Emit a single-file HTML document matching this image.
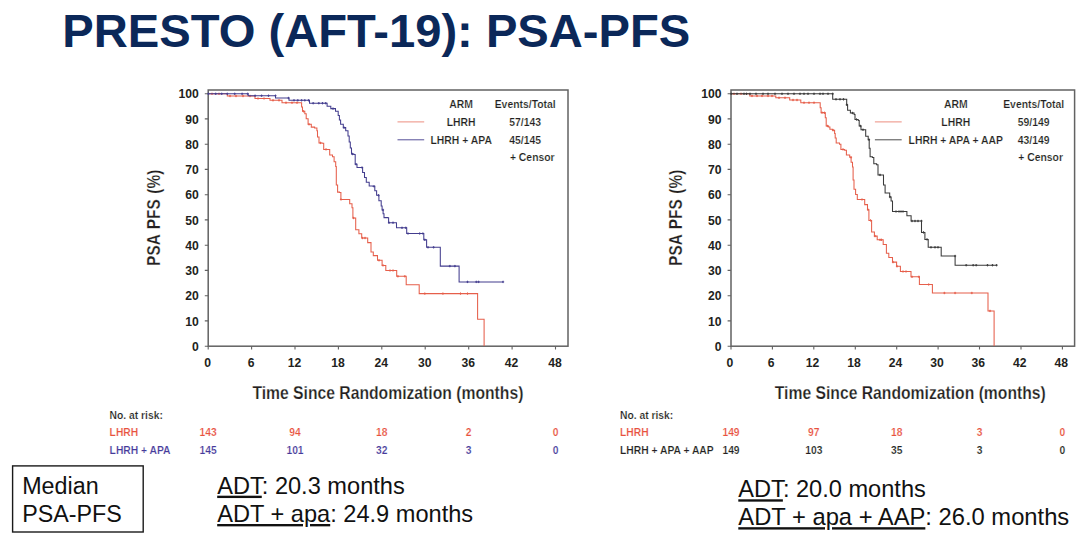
<!DOCTYPE html>
<html lang="en"><head><meta charset="utf-8"><title>PRESTO (AFT-19): PSA-PFS</title>
<style>
html,body{margin:0;padding:0;background:#fff}
body{width:1080px;height:539px;overflow:hidden;position:relative;font-family:"Liberation Sans",Arial,sans-serif}
svg{position:absolute;left:0;top:0;display:block}
svg text{font-family:"Liberation Sans",Arial,sans-serif}
.tk{font-size:12.3px;font-weight:bold;fill:#231f20}
.ax{font-size:19px;font-weight:bold;fill:#231f20;stroke:#fff;stroke-width:.25px}
.lg{font-size:10.4px;font-weight:bold;fill:#231f20;stroke:#fff;stroke-width:.18px}
.rk{font-size:10.3px;font-weight:bold;fill:#231f20;stroke:#fff;stroke-width:.18px}
.ttl{font-size:46px;font-weight:bold;fill:#0b2859}
.bt{font-size:23.6px;fill:#111}.bx{font-size:23.3px;fill:#111}
</style></head><body>
<svg width="1080" height="539" viewBox="0 0 1080 539">
<text x="62.3" y="47.2" class="ttl" textLength="628" lengthAdjust="spacingAndGlyphs">PRESTO (AFT-19): PSA-PFS</text>
<rect x="208.2" y="90.0" width="359.8" height="256.2" fill="none" stroke="#626262" stroke-width="1.5"/>
<text transform="translate(198.7,350.8) scale(.99,1)" text-anchor="end" class="tk">0</text>
<text transform="translate(198.7,325.6) scale(.99,1)" text-anchor="end" class="tk">10</text>
<text transform="translate(198.7,300.3) scale(.99,1)" text-anchor="end" class="tk">20</text>
<text transform="translate(198.7,275.1) scale(.99,1)" text-anchor="end" class="tk">30</text>
<text transform="translate(198.7,249.8) scale(.99,1)" text-anchor="end" class="tk">40</text>
<text transform="translate(198.7,224.5) scale(.99,1)" text-anchor="end" class="tk">50</text>
<text transform="translate(198.7,199.3) scale(.99,1)" text-anchor="end" class="tk">60</text>
<text transform="translate(198.7,174.0) scale(.99,1)" text-anchor="end" class="tk">70</text>
<text transform="translate(198.7,148.8) scale(.99,1)" text-anchor="end" class="tk">80</text>
<text transform="translate(198.7,123.5) scale(.99,1)" text-anchor="end" class="tk">90</text>
<text transform="translate(198.7,98.3) scale(.99,1)" text-anchor="end" class="tk">100</text>
<text transform="translate(207.7,367.1) scale(.99,1)" text-anchor="middle" class="tk">0</text>
<text transform="translate(251.1,367.1) scale(.99,1)" text-anchor="middle" class="tk">6</text>
<text transform="translate(294.5,367.1) scale(.99,1)" text-anchor="middle" class="tk">12</text>
<text transform="translate(337.9,367.1) scale(.99,1)" text-anchor="middle" class="tk">18</text>
<text transform="translate(381.3,367.1) scale(.99,1)" text-anchor="middle" class="tk">24</text>
<text transform="translate(424.8,367.1) scale(.99,1)" text-anchor="middle" class="tk">30</text>
<text transform="translate(468.2,367.1) scale(.99,1)" text-anchor="middle" class="tk">36</text>
<text transform="translate(511.6,367.1) scale(.99,1)" text-anchor="middle" class="tk">42</text>
<text transform="translate(555.0,367.1) scale(.99,1)" text-anchor="middle" class="tk">48</text>
<path d="M208.2 346.2h-3.4M208.2 320.9h-3.4M208.2 295.7h-3.4M208.2 270.4h-3.4M208.2 245.2h-3.4M208.2 219.9h-3.4M208.2 194.7h-3.4M208.2 169.4h-3.4M208.2 144.2h-3.4M208.2 118.9h-3.4M208.2 93.7h-3.4M208.2 346.2v3.2M251.6 346.2v3.2M295.0 346.2v3.2M338.4 346.2v3.2M381.8 346.2v3.2M425.2 346.2v3.2M468.7 346.2v3.2M512.1 346.2v3.2M555.5 346.2v3.2" stroke="#626262" stroke-width="1.1" fill="none"/>
<path d="M208.2 93.8 L227.3 93.8 L227.3 96.0 L255.0 96.0 L255.0 98.5 L270.0 98.5 L270.0 100.3 L282.0 100.3 L282.0 102.7 L300.7 102.7 L301.6 102.7 L301.6 107.0 L302.5 107.0 L302.5 111.3 L304.8 111.3 L304.8 113.7 L306.2 113.7 L306.2 118.8 L308.1 118.8 L308.1 124.3 L311.3 124.3 L311.3 127.1 L314.6 127.1 L314.6 128.0 L316.9 128.0 L316.9 130.8 L317.5 130.8 L317.5 137.0 L319.0 137.0 L319.0 142.9 L322.3 142.9 L322.3 143.3 L323.7 143.3 L323.7 149.4 L327.4 149.4 L329.7 149.4 L329.7 155.0 L332.5 155.0 L332.5 156.8 L334.1 156.8 L334.1 161.7 L335.7 161.7 L335.7 166.5 L336.3 166.5 L336.3 185.0 L337.6 185.0 L337.6 192.1 L339.5 192.1 L339.5 192.5 L340.9 192.5 L340.9 199.5 L347.4 199.5 L349.7 199.5 L349.7 203.7 L352.0 203.7 L352.0 207.8 L352.9 207.8 L352.9 218.0 L354.8 218.0 L355.7 218.0 L355.7 229.8 L358.9 229.8 L358.9 230.1 L358.9 233.8 L361.7 233.8 L361.7 238.0 L367.7 238.0 L367.7 242.6 L371.0 242.6 L371.0 251.9 L373.3 251.9 L373.3 255.6 L377.5 255.6 L377.5 260.3 L382.1 260.3 L382.1 265.4 L385.8 265.4 L385.8 270.5 L396.7 270.5 L396.7 276.3 L406.2 276.3 L406.2 284.7 L419.2 284.7 L419.2 293.6 L477.6 293.6 L477.6 319.3 L484.1 319.3 L484.1 346.0" stroke="#e65f4b" stroke-width="1.05" fill="none" stroke-linejoin="miter"/>
<path d="M212.0 92.6v2.4M210.9 93.8h2.2M219.0 92.6v2.4M217.9 93.8h2.2M230.0 94.8v2.4M228.9 96.0h2.2M236.0 94.8v2.4M234.9 96.0h2.2M243.0 94.8v2.4M241.9 96.0h2.2M250.0 94.8v2.4M248.9 96.0h2.2M258.0 97.3v2.4M256.9 98.5h2.2M264.0 97.3v2.4M262.9 98.5h2.2M273.0 99.1v2.4M271.9 100.3h2.2M279.0 99.1v2.4M277.9 100.3h2.2M286.0 101.5v2.4M284.9 102.7h2.2M292.0 101.5v2.4M290.9 102.7h2.2M297.0 101.5v2.4M295.9 102.7h2.2M303.5 110.1v2.4M302.4 111.3h2.2M309.0 123.1v2.4M307.9 124.3h2.2M320.5 141.7v2.4M319.4 142.9h2.2M326.0 148.2v2.4M324.9 149.4h2.2M341.0 198.3v2.4M339.9 199.5h2.2M353.5 216.8v2.4M352.4 218.0h2.2M362.5 236.8v2.4M361.4 238.0h2.2M365.0 236.8v2.4M363.9 238.0h2.2M379.0 259.1v2.4M377.9 260.3h2.2M383.0 264.2v2.4M381.9 265.4h2.2M390.0 269.3v2.4M388.9 270.5h2.2M393.0 269.3v2.4M391.9 270.5h2.2M397.9 275.1v2.4M396.8 276.3h2.2M404.8 275.1v2.4M403.7 276.3h2.2M424.8 292.4v2.4M423.7 293.6h2.2M442.9 292.4v2.4M441.8 293.6h2.2M460.5 292.4v2.4M459.4 293.6h2.2M467.5 292.4v2.4M466.4 293.6h2.2" stroke="#e65f4b" stroke-width=".9" fill="none"/>
<path d="M208.2 93.8 L248.1 93.8 L248.1 95.7 L275.5 95.7 L275.5 98.0 L289.0 98.0 L289.0 100.3 L309.5 100.3 L309.5 103.2 L327.1 103.2 L327.1 106.2 L330.8 106.2 L330.8 108.6 L335.5 108.6 L335.5 111.3 L338.2 111.3 L338.2 115.5 L339.4 115.5 L339.4 119.9 L340.6 119.9 L340.6 124.3 L343.3 124.3 L343.3 127.6 L345.7 127.6 L345.7 130.8 L348.0 130.8 L348.0 136.0 L349.2 136.0 L349.2 142.0 L350.3 142.0 L350.3 148.0 L351.5 148.0 L351.5 154.0 L353.8 154.0 L353.8 154.5 L355.2 154.5 L355.2 164.2 L357.0 164.2 L357.0 167.5 L360.8 167.5 L362.6 167.5 L362.6 172.4 L364.5 172.4 L364.5 177.4 L366.3 177.4 L366.3 182.3 L369.1 182.3 L369.1 182.5 L369.2 182.5 L369.2 186.0 L372.9 186.0 L372.9 186.3 L374.8 186.3 L374.8 190.8 L376.6 190.8 L376.6 195.3 L378.9 195.3 L378.9 200.7 L381.2 200.7 L381.2 206.0 L382.1 206.0 L382.1 209.9 L383.1 209.9 L383.1 213.7 L384.0 213.7 L384.0 217.6 L387.7 217.6 L387.7 217.8 L388.6 217.8 L388.6 222.7 L396.5 222.7 L396.5 227.8 L406.7 227.8 L406.7 233.5 L423.8 233.5 L423.8 239.8 L426.6 239.8 L426.6 247.3 L440.3 247.3 L440.3 266.1 L459.1 266.1 L459.1 281.9 L503.1 281.9" stroke="#433d8e" stroke-width="1.05" fill="none" stroke-linejoin="miter"/>
<path d="M208.4 92.6v2.4M207.3 93.8h2.2M215.7 92.6v2.4M214.6 93.8h2.2M221.7 92.6v2.4M220.6 93.8h2.2M227.3 92.6v2.4M226.2 93.8h2.2M234.7 92.6v2.4M233.6 93.8h2.2M242.1 92.6v2.4M241.0 93.8h2.2M247.7 92.6v2.4M246.6 93.8h2.2M255.1 94.5v2.4M254.0 95.7h2.2M261.6 94.5v2.4M260.5 95.7h2.2M268.5 94.5v2.4M267.4 95.7h2.2M275.5 94.5v2.4M274.4 95.7h2.2M288.5 96.8v2.4M287.4 98.0h2.2M294.0 99.1v2.4M292.9 100.3h2.2M297.8 99.1v2.4M296.7 100.3h2.2M301.6 99.1v2.4M300.5 100.3h2.2M304.8 99.1v2.4M303.7 100.3h2.2M308.6 99.1v2.4M307.5 100.3h2.2M313.2 102.0v2.4M312.1 103.2h2.2M318.8 102.0v2.4M317.7 103.2h2.2M322.5 102.0v2.4M321.4 103.2h2.2M325.7 102.0v2.4M324.6 103.2h2.2M333.0 107.4v2.4M331.9 108.6h2.2M344.0 126.4v2.4M342.9 127.6h2.2M352.5 152.8v2.4M351.4 154.0h2.2M356.0 163.0v2.4M354.9 164.2h2.2M362.0 166.3v2.4M360.9 167.5h2.2M374.0 185.1v2.4M372.9 186.3h2.2M378.5 194.1v2.4M377.4 195.3h2.2M383.0 208.7v2.4M381.9 209.9h2.2M389.0 221.5v2.4M387.9 222.7h2.2M393.0 221.5v2.4M391.9 222.7h2.2M402.0 226.6v2.4M400.9 227.8h2.2M405.8 226.6v2.4M404.7 227.8h2.2M408.0 232.3v2.4M406.9 233.5h2.2M419.7 232.3v2.4M418.6 233.5h2.2M422.9 232.3v2.4M421.8 233.5h2.2M424.8 238.6v2.4M423.7 239.8h2.2M428.0 246.1v2.4M426.9 247.3h2.2M433.6 246.1v2.4M432.5 247.3h2.2M449.8 264.9v2.4M448.7 266.1h2.2M454.9 264.9v2.4M453.8 266.1h2.2M467.5 280.7v2.4M466.4 281.9h2.2M476.3 280.7v2.4M475.2 281.9h2.2M478.6 280.7v2.4M477.5 281.9h2.2M503.1 280.7v2.4M502.0 281.9h2.2" stroke="#433d8e" stroke-width=".9" fill="none"/>
<text transform="translate(160.0,217.8) rotate(-90)" text-anchor="middle" class="ax" style="font-size:17.6px;word-spacing:1.5px" textLength="96.2" lengthAdjust="spacingAndGlyphs">PSA PFS (%)</text>
<text x="387.9" y="398.6" text-anchor="middle" class="ax" textLength="271" lengthAdjust="spacingAndGlyphs">Time Since Randomization (months)</text>
<path d="M397.5 121.9H424.2" stroke="#e65f4b" stroke-width="1" opacity=".7"/>
<path d="M397.5 139.8H424.2" stroke="#433d8e" stroke-width="1" opacity=".9"/>
<text x="461.2" y="108.1" text-anchor="middle" class="lg">ARM</text>
<text x="461.2" y="125.9" text-anchor="middle" class="lg">LHRH</text>
<text x="461.2" y="143.5" text-anchor="middle" class="lg">LHRH + APA</text>
<text x="525.2" y="108.1" text-anchor="middle" class="lg">Events/Total</text>
<text x="525.2" y="125.9" text-anchor="middle" class="lg">57/143</text>
<text x="525.2" y="143.5" text-anchor="middle" class="lg">45/145</text>
<text x="509.9" y="161.4" class="lg">+ Censor</text>
<text x="109.6" y="418.9" class="rk">No. at risk:</text>
<text x="109.6" y="436.4" class="rk" style="fill:#e8513d">LHRH</text>
<text x="208.2" y="436.4" text-anchor="middle" class="rk" style="fill:#e8513d">143</text>
<text x="295.0" y="436.4" text-anchor="middle" class="rk" style="fill:#e8513d">94</text>
<text x="381.8" y="436.4" text-anchor="middle" class="rk" style="fill:#e8513d">18</text>
<text x="468.7" y="436.4" text-anchor="middle" class="rk" style="fill:#e8513d">2</text>
<text x="555.5" y="436.4" text-anchor="middle" class="rk" style="fill:#e8513d">0</text>
<text x="109.6" y="454.2" class="rk" style="fill:#45399a">LHRH + APA</text>
<text x="208.2" y="454.2" text-anchor="middle" class="rk" style="fill:#45399a">145</text>
<text x="295.0" y="454.2" text-anchor="middle" class="rk" style="fill:#45399a">101</text>
<text x="381.8" y="454.2" text-anchor="middle" class="rk" style="fill:#45399a">32</text>
<text x="468.7" y="454.2" text-anchor="middle" class="rk" style="fill:#45399a">3</text>
<text x="555.5" y="454.2" text-anchor="middle" class="rk" style="fill:#45399a">0</text>
<rect x="731.0" y="90.0" width="343.6" height="256.2" fill="none" stroke="#626262" stroke-width="1.5"/>
<text transform="translate(721.5,350.8) scale(.99,1)" text-anchor="end" class="tk">0</text>
<text transform="translate(721.5,325.6) scale(.99,1)" text-anchor="end" class="tk">10</text>
<text transform="translate(721.5,300.3) scale(.99,1)" text-anchor="end" class="tk">20</text>
<text transform="translate(721.5,275.1) scale(.99,1)" text-anchor="end" class="tk">30</text>
<text transform="translate(721.5,249.8) scale(.99,1)" text-anchor="end" class="tk">40</text>
<text transform="translate(721.5,224.5) scale(.99,1)" text-anchor="end" class="tk">50</text>
<text transform="translate(721.5,199.3) scale(.99,1)" text-anchor="end" class="tk">60</text>
<text transform="translate(721.5,174.0) scale(.99,1)" text-anchor="end" class="tk">70</text>
<text transform="translate(721.5,148.8) scale(.99,1)" text-anchor="end" class="tk">80</text>
<text transform="translate(721.5,123.5) scale(.99,1)" text-anchor="end" class="tk">90</text>
<text transform="translate(721.5,98.3) scale(.99,1)" text-anchor="end" class="tk">100</text>
<text transform="translate(729.8,367.1) scale(.99,1)" text-anchor="middle" class="tk">0</text>
<text transform="translate(771.2,367.1) scale(.99,1)" text-anchor="middle" class="tk">6</text>
<text transform="translate(812.6,367.1) scale(.99,1)" text-anchor="middle" class="tk">12</text>
<text transform="translate(854.1,367.1) scale(.99,1)" text-anchor="middle" class="tk">18</text>
<text transform="translate(895.5,367.1) scale(.99,1)" text-anchor="middle" class="tk">24</text>
<text transform="translate(936.9,367.1) scale(.99,1)" text-anchor="middle" class="tk">30</text>
<text transform="translate(978.3,367.1) scale(.99,1)" text-anchor="middle" class="tk">36</text>
<text transform="translate(1019.8,367.1) scale(.99,1)" text-anchor="middle" class="tk">42</text>
<text transform="translate(1061.2,367.1) scale(.99,1)" text-anchor="middle" class="tk">48</text>
<path d="M731.0 346.2h-3.4M731.0 320.9h-3.4M731.0 295.7h-3.4M731.0 270.4h-3.4M731.0 245.2h-3.4M731.0 219.9h-3.4M731.0 194.7h-3.4M731.0 169.4h-3.4M731.0 144.2h-3.4M731.0 118.9h-3.4M731.0 93.7h-3.4M731.0 346.2v3.2M772.4 346.2v3.2M813.8 346.2v3.2M855.3 346.2v3.2M896.7 346.2v3.2M938.1 346.2v3.2M979.5 346.2v3.2M1021.0 346.2v3.2M1062.4 346.2v3.2" stroke="#626262" stroke-width="1.1" fill="none"/>
<path d="M731.0 93.8 L749.8 93.8 L749.8 95.9 L775.8 95.9 L775.8 97.8 L789.7 97.8 L789.7 100.0 L800.8 100.0 L800.8 102.7 L819.3 102.7 L820.2 102.7 L820.2 107.7 L821.1 107.7 L821.1 112.6 L823.5 112.6 L823.5 112.8 L825.3 112.8 L825.3 117.7 L826.2 117.7 L826.2 126.0 L828.6 126.0 L828.6 127.0 L829.9 127.0 L829.9 129.3 L832.7 129.3 L832.7 130.2 L834.6 130.2 L834.6 133.5 L835.2 133.5 L835.2 138.0 L836.2 138.0 L836.2 142.9 L839.5 142.9 L839.5 144.3 L840.9 144.3 L840.9 149.4 L844.6 149.4 L844.6 150.3 L846.4 150.3 L846.4 155.0 L849.7 155.0 L849.7 157.3 L851.1 157.3 L851.1 162.2 L852.5 162.2 L852.5 167.0 L853.1 167.0 L853.1 180.0 L854.0 180.0 L854.0 189.3 L855.6 189.3 L855.6 194.4 L857.3 194.4 L857.3 199.5 L861.9 199.5 L864.7 199.5 L864.7 204.6 L867.5 204.6 L867.5 209.7 L868.9 209.7 L868.9 220.4 L870.7 220.4 L871.6 220.4 L871.6 232.0 L874.4 232.0 L874.4 236.1 L877.2 236.1 L877.2 239.8 L883.2 239.8 L883.2 244.5 L886.4 244.5 L886.4 253.3 L888.8 253.3 L888.8 257.5 L892.5 257.5 L892.5 262.1 L896.6 262.1 L896.6 266.3 L900.4 266.3 L900.4 271.5 L911.0 271.5 L911.0 276.8 L919.4 276.8 L919.4 284.5 L932.4 284.5 L932.4 293.0 L988.0 293.0 L988.0 310.9 L994.1 310.9 L994.1 346.0" stroke="#e65f4b" stroke-width="1.05" fill="none" stroke-linejoin="miter"/>
<path d="M734.0 92.6v2.4M732.9 93.8h2.2M741.0 92.6v2.4M739.9 93.8h2.2M752.0 94.7v2.4M750.9 95.9h2.2M757.0 94.7v2.4M755.9 95.9h2.2M762.0 94.7v2.4M760.9 95.9h2.2M768.0 94.7v2.4M766.9 95.9h2.2M772.0 94.7v2.4M770.9 95.9h2.2M779.0 96.6v2.4M777.9 97.8h2.2M785.0 96.6v2.4M783.9 97.8h2.2M793.0 98.8v2.4M791.9 100.0h2.2M797.0 98.8v2.4M795.9 100.0h2.2M804.0 101.5v2.4M802.9 102.7h2.2M809.0 101.5v2.4M807.9 102.7h2.2M814.0 101.5v2.4M812.9 102.7h2.2M822.0 111.4v2.4M820.9 112.6h2.2M824.5 111.6v2.4M823.4 112.8h2.2M827.5 124.8v2.4M826.4 126.0h2.2M833.0 129.0v2.4M831.9 130.2h2.2M843.0 148.2v2.4M841.9 149.4h2.2M851.0 156.1v2.4M849.9 157.3h2.2M862.0 198.3v2.4M860.9 199.5h2.2M868.0 208.5v2.4M866.9 209.7h2.2M870.5 219.2v2.4M869.4 220.4h2.2M875.0 234.9v2.4M873.9 236.1h2.2M880.0 238.6v2.4M878.9 239.8h2.2M881.5 238.6v2.4M880.4 239.8h2.2M893.0 260.9v2.4M891.9 262.1h2.2M897.0 265.1v2.4M895.9 266.3h2.2M903.0 270.3v2.4M901.9 271.5h2.2M906.0 270.3v2.4M904.9 271.5h2.2M912.0 275.6v2.4M910.9 276.8h2.2M918.9 275.6v2.4M917.8 276.8h2.2M928.7 283.3v2.4M927.6 284.5h2.2M944.4 291.8v2.4M943.3 293.0h2.2M955.1 291.8v2.4M954.0 293.0h2.2M971.8 291.8v2.4M970.7 293.0h2.2M990.0 309.7v2.4M988.9 310.9h2.2" stroke="#e65f4b" stroke-width=".9" fill="none"/>
<path d="M731.0 93.8 L832.7 93.8 L832.7 99.3 L845.7 99.3 L846.7 99.3 L846.7 104.8 L847.6 104.8 L847.6 110.3 L850.4 110.3 L850.4 113.0 L854.1 113.0 L854.1 114.4 L855.0 114.4 L855.0 119.5 L858.2 119.5 L858.2 120.5 L859.2 120.5 L859.2 126.0 L861.0 126.0 L861.0 129.7 L864.3 129.7 L865.7 129.7 L865.7 136.2 L868.2 136.2 L868.2 139.6 L869.2 139.6 L869.2 148.2 L870.1 148.2 L870.1 156.8 L872.4 156.8 L872.4 157.5 L873.8 157.5 L873.8 163.8 L876.6 163.8 L876.6 164.7 L878.0 164.7 L878.0 174.9 L882.2 174.9 L883.5 174.9 L883.5 185.0 L885.1 185.0 L885.1 193.0 L888.3 193.0 L889.7 193.0 L889.7 196.9 L891.1 196.9 L891.1 200.9 L892.5 200.9 L892.5 211.5 L906.4 211.5 L906.9 211.5 L906.9 215.7 L909.7 215.7 L911.1 215.7 L911.1 221.0 L921.5 221.0 L921.5 232.4 L924.9 232.4 L924.9 239.4 L928.2 239.4 L928.2 247.3 L941.2 247.3 L941.2 256.0 L955.1 256.0 L955.1 265.2 L996.8 265.2" stroke="#3a3a3a" stroke-width="1.05" fill="none" stroke-linejoin="miter"/>
<path d="M731.2 92.6v2.4M730.1 93.8h2.2M737.0 92.6v2.4M735.9 93.8h2.2M744.0 92.6v2.4M742.9 93.8h2.2M746.5 92.6v2.4M745.4 93.8h2.2M750.0 92.6v2.4M748.9 93.8h2.2M756.0 92.6v2.4M754.9 93.8h2.2M763.0 92.6v2.4M761.9 93.8h2.2M768.0 92.6v2.4M766.9 93.8h2.2M775.0 92.6v2.4M773.9 93.8h2.2M782.0 92.6v2.4M780.9 93.8h2.2M788.0 92.6v2.4M786.9 93.8h2.2M794.0 92.6v2.4M792.9 93.8h2.2M800.0 92.6v2.4M798.9 93.8h2.2M804.0 92.6v2.4M802.9 93.8h2.2M808.0 92.6v2.4M806.9 93.8h2.2M814.0 92.6v2.4M812.9 93.8h2.2M820.0 92.6v2.4M818.9 93.8h2.2M823.0 92.6v2.4M821.9 93.8h2.2M828.0 92.6v2.4M826.9 93.8h2.2M832.7 92.6v2.4M831.6 93.8h2.2M836.0 98.1v2.4M834.9 99.3h2.2M840.0 98.1v2.4M838.9 99.3h2.2M843.5 98.1v2.4M842.4 99.3h2.2M846.8 103.6v2.4M845.7 104.8h2.2M852.5 111.8v2.4M851.4 113.0h2.2M856.5 118.3v2.4M855.4 119.5h2.2M860.5 124.8v2.4M859.4 126.0h2.2M863.0 128.5v2.4M861.9 129.7h2.2M869.0 138.4v2.4M867.9 139.6h2.2M880.0 173.7v2.4M878.9 174.9h2.2M890.0 195.8v2.4M888.9 196.9h2.2M896.0 210.3v2.4M894.9 211.5h2.2M899.0 210.3v2.4M897.9 211.5h2.2M901.0 210.3v2.4M899.9 211.5h2.2M903.0 210.3v2.4M901.9 211.5h2.2M912.0 219.8v2.4M910.9 221.0h2.2M915.0 219.8v2.4M913.9 221.0h2.2M918.0 219.8v2.4M916.9 221.0h2.2M921.5 219.8v2.4M920.4 221.0h2.2M923.5 231.2v2.4M922.4 232.4h2.2M927.0 238.2v2.4M925.9 239.4h2.2M931.0 246.1v2.4M929.9 247.3h2.2M935.0 246.1v2.4M933.9 247.3h2.2M938.0 246.1v2.4M936.9 247.3h2.2M955.1 254.8v2.4M954.0 256.0h2.2M966.2 264.0v2.4M965.1 265.2h2.2M973.2 264.0v2.4M972.1 265.2h2.2M976.2 264.0v2.4M975.1 265.2h2.2M987.5 264.0v2.4M986.4 265.2h2.2M992.5 264.0v2.4M991.4 265.2h2.2M996.6 264.0v2.4M995.5 265.2h2.2" stroke="#3a3a3a" stroke-width=".9" fill="none"/>
<text transform="translate(682.1,217.8) rotate(-90)" text-anchor="middle" class="ax" style="font-size:17.6px;word-spacing:1.5px" textLength="96.2" lengthAdjust="spacingAndGlyphs">PSA PFS (%)</text>
<text x="910.3" y="398.6" text-anchor="middle" class="ax" textLength="271" lengthAdjust="spacingAndGlyphs">Time Since Randomization (months)</text>
<path d="M874.9 121.9H901.7" stroke="#e65f4b" stroke-width="1" opacity=".7"/>
<path d="M874.9 139.8H901.7" stroke="#3a3a3a" stroke-width="1" opacity=".9"/>
<text x="955.8" y="108.1" text-anchor="middle" class="lg">ARM</text>
<text x="955.8" y="125.9" text-anchor="middle" class="lg">LHRH</text>
<text x="955.8" y="143.5" text-anchor="middle" class="lg">LHRH + APA + AAP</text>
<text x="1033.7" y="108.1" text-anchor="middle" class="lg">Events/Total</text>
<text x="1033.7" y="125.9" text-anchor="middle" class="lg">59/149</text>
<text x="1033.7" y="143.5" text-anchor="middle" class="lg">43/149</text>
<text x="1018.2" y="161.4" class="lg">+ Censor</text>
<text x="620.0" y="418.9" class="rk">No. at risk:</text>
<text x="620.0" y="436.4" class="rk" style="fill:#e8513d">LHRH</text>
<text x="731.0" y="436.4" text-anchor="middle" class="rk" style="fill:#e8513d">149</text>
<text x="813.8" y="436.4" text-anchor="middle" class="rk" style="fill:#e8513d">97</text>
<text x="896.7" y="436.4" text-anchor="middle" class="rk" style="fill:#e8513d">18</text>
<text x="979.5" y="436.4" text-anchor="middle" class="rk" style="fill:#e8513d">3</text>
<text x="1062.4" y="436.4" text-anchor="middle" class="rk" style="fill:#e8513d">0</text>
<text x="620.0" y="454.2" class="rk" style="fill:#231f20">LHRH + APA + AAP</text>
<text x="731.0" y="454.2" text-anchor="middle" class="rk" style="fill:#231f20">149</text>
<text x="813.8" y="454.2" text-anchor="middle" class="rk" style="fill:#231f20">103</text>
<text x="896.7" y="454.2" text-anchor="middle" class="rk" style="fill:#231f20">35</text>
<text x="979.5" y="454.2" text-anchor="middle" class="rk" style="fill:#231f20">3</text>
<text x="1062.4" y="454.2" text-anchor="middle" class="rk" style="fill:#231f20">0</text>
<rect x="12.6" y="465.9" width="130.6" height="66.1" fill="none" stroke="#1a1a1a" stroke-width="1.4"/>
<text x="22.2" y="493.7" class="bx">Median</text>
<text x="22.2" y="522" class="bx">PSA-PFS</text>
<text x="217.2" y="493.7" class="bt"><tspan text-decoration="underline">ADT</tspan>: 20.3 months</text>
<text x="217.2" y="522" class="bt"><tspan text-decoration="underline">ADT + apa</tspan>: 24.9 months</text>
<text x="738.3" y="497.3" class="bt"><tspan text-decoration="underline">ADT</tspan>: 20.0 months</text>
<text x="738.3" y="525.2" class="bt" style="font-size:23.75px"><tspan text-decoration="underline">ADT + apa + AAP</tspan>: 26.0 months</text>
</svg>
</body></html>
